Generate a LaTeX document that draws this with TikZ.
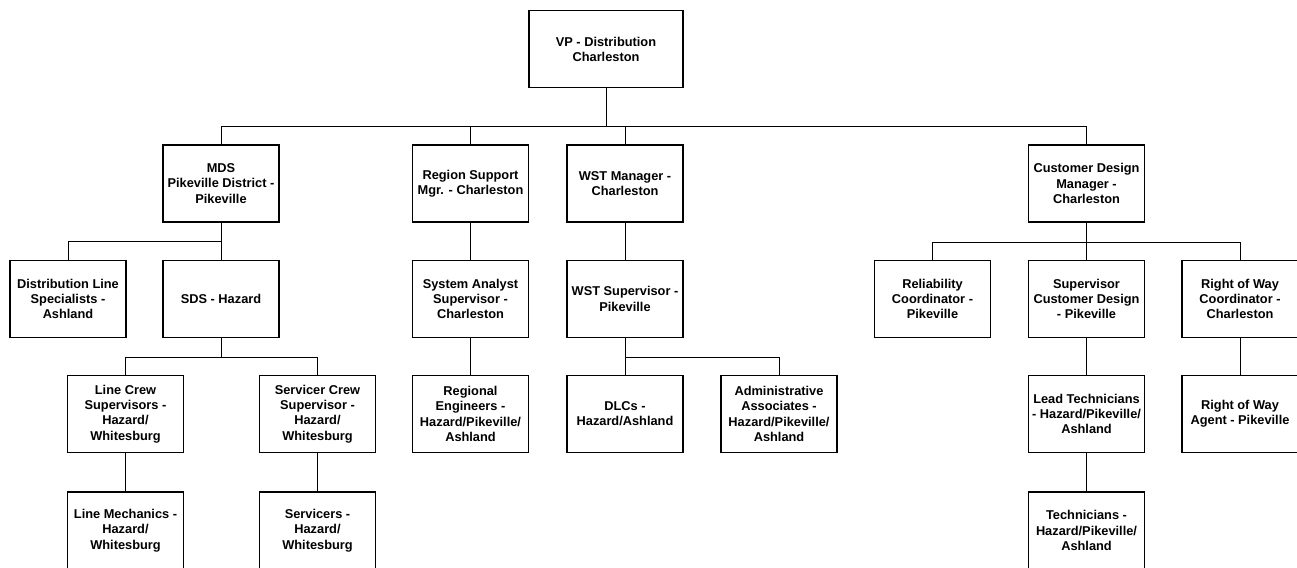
\documentclass[tikz,border=0pt]{standalone}
\usepackage{fontspec}
\setmainfont{Liberation Sans}
\tikzset{
    orgbox/.style={draw,rectangle,line width=1.2pt,minimum width=116pt,minimum height=77pt,
        inner sep=0pt,align=center,font=\fontsize{12.8}{15.3}\selectfont\bfseries},
    link/.style={line width=0.8pt}
}
\begin{document}
\begin{tikzpicture}[x=1pt,y=-1pt]
        \clip (0,0) rectangle (1297,567);
        \useasboundingbox (0,0) rectangle (1297,567);

        %%%%%%%%%% VP %%%%%%%%%%
        \node[orgbox,minimum width=154pt] (VP) at (606,49.3) {VP - Distribution\\Charleston};

        %%%%%%%% Managers %%%%%%%%
        \node[orgbox] (MDS) at (221,183.5) {MDS\\Pikeville District -\\Pikeville};
        \node[orgbox] (RegSup) at (470.5,183.5) {Region Support\\Mgr. - Charleston};
        \node[orgbox] (WSTMgr) at (625,183.5) {WST Manager -\\Charleston};
        \node[orgbox] (CustMgr) at (1086.5,183.5) {Customer Design\\Manager -\\Charleston};

        %%%%%%%% Supervisors %%%%%%%%
        \node[orgbox] (DistLine) at (68,299) {Distribution Line\\Specialists -\\Ashland};
        \node[orgbox] (SDS) at (221,299) {SDS - Hazard};
        \node[orgbox] (SysAn) at (470.5,299) {System Analyst\\Supervisor -\\Charleston};
        \node[orgbox] (WSTSup) at (625,299) {WST Supervisor -\\Pikeville};
        \node[orgbox] (Reliab) at (932.5,299) {Reliability\\Coordinator -\\Pikeville};
        \node[orgbox] (CustSup) at (1086.5,299) {Supervisor\\Customer Design\\- Pikeville};
        \node[orgbox] (RowCoord) at (1240,299) {Right of Way\\Coordinator -\\Charleston};

        %%%%%%%% Crews %%%%%%%%
        \node[orgbox] (LineCrew) at (125.5,414) {Line Crew\\Supervisors -\\Hazard/\\Whitesburg};
        \node[orgbox] (ServCrew) at (317.5,414) {Servicer Crew\\Supervisor -\\Hazard/\\Whitesburg};
        \node[orgbox] (RegEng) at (470.5,414) {Regional\\Engineers -\\Hazard/Pikeville/\\Ashland};
        \node[orgbox] (DLC) at (625,414) {DLCs -\\Hazard/Ashland};
        \node[orgbox] (Admin) at (779,414) {Administrative\\Associates -\\Hazard/Pikeville/\\Ashland};
        \node[orgbox] (LeadTech) at (1086.5,414) {Lead Technicians\\- Hazard/Pikeville/\\Ashland};
        \node[orgbox] (RowAgent) at (1240,414) {Right of Way\\Agent - Pikeville};

        %%%%%%%% Workers %%%%%%%%
        \node[orgbox] (LineMech) at (125.5,530.5) {Line Mechanics -\\Hazard/\\Whitesburg};
        \node[orgbox] (Serv) at (317.5,530.5) {Servicers -\\Hazard/\\Whitesburg};
        \node[orgbox] (Tech) at (1086.5,530.5) {Technicians -\\Hazard/Pikeville/\\Ashland};

        %%%%%%%%% Links %%%%%%%%%%
        \draw[link] (VP.south) -- ++(0,38) -| (MDS.north);
        \draw[link] (VP.south) -- ++(0,38) -| (RegSup.north);
        \draw[link] (VP.south) -- ++(0,38) -| (WSTMgr.north);
        \draw[link] (VP.south) -- ++(0,38) -| (CustMgr.north);
        \draw[link] (MDS.south) -- ++(0,19) -| (DistLine.north);
        \draw[link] (MDS.south) -- (SDS.north);
        \draw[link] (RegSup.south) -- (SysAn.north);
        \draw[link] (WSTMgr.south) -- (WSTSup.north);
        \draw[link] (CustMgr.south) -- ++(0,19.5) -| (Reliab.north);
        \draw[link] (CustMgr.south) -- (CustSup.north);
        \draw[link] (CustMgr.south) -- ++(0,19.5) -| (RowCoord.north);
        \draw[link] (SDS.south) -- ++(0,19) -| (LineCrew.north);
        \draw[link] (SDS.south) -- ++(0,19) -| (ServCrew.north);
        \draw[link] (SysAn.south) -- (RegEng.north);
        \draw[link] (WSTSup.south) -- (DLC.north);
        \draw[link] (WSTSup.south) -- ++(0,19) -| (Admin.north);
        \draw[link] (CustSup.south) -- (LeadTech.north);
        \draw[link] (RowCoord.south) -- (RowAgent.north);
        \draw[link] (LineCrew.south) -- (LineMech.north);
        \draw[link] (ServCrew.south) -- (Serv.north);
        \draw[link] (LeadTech.south) -- (Tech.north);
    \end{tikzpicture}
\end{document}
